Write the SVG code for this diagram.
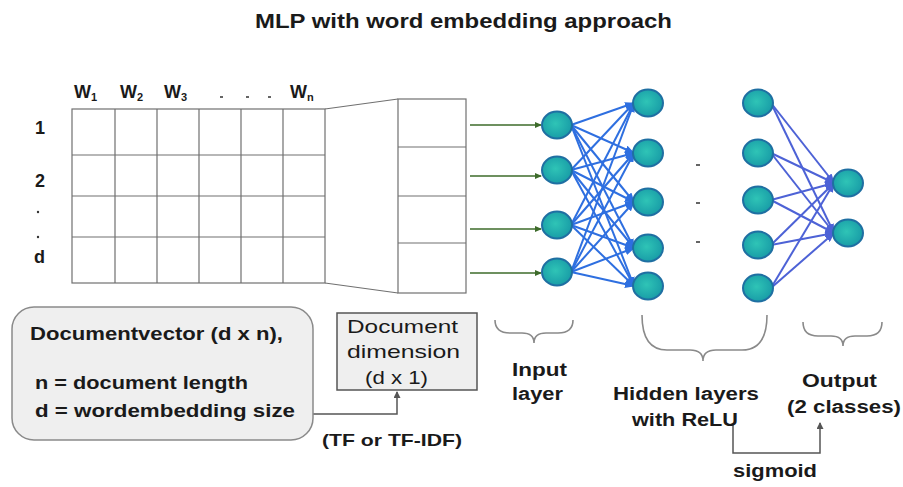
<svg xmlns="http://www.w3.org/2000/svg" width="903" height="487" viewBox="0 0 903 487">
<style>
text{font-family:"Liberation Sans",Arial,sans-serif;fill:#1a1a1a}
.b{font-weight:bold}
.grid{fill:none;stroke:#707070;stroke-width:1.2}
.node{fill:url(#ng);stroke:#1f6fa2;stroke-width:2}
.e1{stroke:#2e6fe0;stroke-width:2;marker-end:url(#ab)}
.e2{stroke:#4d62d6;stroke-width:2;marker-end:url(#ap)}
.g{stroke:#3d6b2a;stroke-width:1.6;marker-end:url(#ag)}
.br{fill:none;stroke:#8a8a8a;stroke-width:1.6}
.cn{fill:none;stroke:#555;stroke-width:1.5}
</style>
<defs>
<radialGradient id="ng" cx="0.45" cy="0.45" r="0.6">
<stop offset="0" stop-color="#2fc4b6"/>
<stop offset="1" stop-color="#179aa6"/>
</radialGradient>
<marker id="ab" markerWidth="10" markerHeight="8" refX="9" refY="4" orient="auto" markerUnits="userSpaceOnUse"><path d="M0,0 L10,4 L0,8 Z" fill="#2e6fe0"/></marker>
<marker id="ap" markerWidth="10" markerHeight="8" refX="9" refY="4" orient="auto" markerUnits="userSpaceOnUse"><path d="M0,0 L10,4 L0,8 Z" fill="#4d62d6"/></marker>
<marker id="ag" markerWidth="7" markerHeight="6" refX="6" refY="3" orient="auto" markerUnits="userSpaceOnUse"><path d="M0,0 L7,3 L0,6 Z" fill="#3d6b2a"/></marker>
<marker id="ak" markerWidth="7" markerHeight="7" refX="6" refY="3.5" orient="auto" markerUnits="userSpaceOnUse"><path d="M0,0 L7,3.5 L0,7 Z" fill="#555"/></marker>
</defs>
<rect width="903" height="487" fill="#fff"/>
<text class="b" x="255" y="28" font-size="20" textLength="417" lengthAdjust="spacingAndGlyphs">MLP with word embedding approach</text>

<g id="matrix">
<rect class="grid" x="72" y="109" width="253" height="174"/>
<path class="grid" d="M115,109V283M157,109V283M199,109V283M241,109V283M283,109V283M72,155H325M72,196H325M72,237H325"/>
<text class="b" x="74" y="98" font-size="18">W<tspan font-size="11" dy="3">1</tspan></text>
<text class="b" x="120" y="98" font-size="18">W<tspan font-size="11" dy="3">2</tspan></text>
<text class="b" x="164" y="98" font-size="18">W<tspan font-size="11" dy="3">3</tspan></text>
<text class="b" x="290" y="98" font-size="18">W<tspan font-size="11" dy="3">n</tspan></text>
<path d="M220,97h3M246,97h3M268,97h3" stroke="#333" stroke-width="1.5"/>
<text class="b" x="35" y="134" font-size="18">1</text>
<text class="b" x="35" y="187" font-size="18">2</text>
<circle cx="38" cy="212" r="1.2" fill="#333"/>
<circle cx="38" cy="237" r="1.2" fill="#333"/>
<text class="b" x="34" y="263" font-size="18">d</text>
</g>

<g id="trapezoid">
<path class="grid" d="M325,109L398,99M325,283L398,293"/>
</g>

<g id="vector">
<rect class="grid" x="398" y="99" width="68" height="194"/>
<path class="grid" d="M398,147H466M398,196H466M398,243H466"/>
</g>

<g id="connectors">
<line class="g" x1="470" y1="125" x2="541" y2="125"/>
<line class="g" x1="470" y1="176" x2="541" y2="176"/>
<line class="g" x1="470" y1="229" x2="541" y2="229"/>
<line class="g" x1="470" y1="273" x2="541" y2="273"/>

<line class="e1" x1="571" y1="125" x2="634" y2="103"/>
<line class="e1" x1="571" y1="125" x2="634" y2="153"/>
<line class="e1" x1="571" y1="125" x2="634" y2="202"/>
<line class="e1" x1="571" y1="125" x2="634" y2="248"/>
<line class="e1" x1="571" y1="125" x2="634" y2="286"/>
<line class="e1" x1="571" y1="170" x2="634" y2="103"/>
<line class="e1" x1="571" y1="170" x2="634" y2="153"/>
<line class="e1" x1="571" y1="170" x2="634" y2="202"/>
<line class="e1" x1="571" y1="170" x2="634" y2="248"/>
<line class="e1" x1="571" y1="170" x2="634" y2="286"/>
<line class="e1" x1="571" y1="225" x2="634" y2="103"/>
<line class="e1" x1="571" y1="225" x2="634" y2="153"/>
<line class="e1" x1="571" y1="225" x2="634" y2="202"/>
<line class="e1" x1="571" y1="225" x2="634" y2="248"/>
<line class="e1" x1="571" y1="225" x2="634" y2="286"/>
<line class="e1" x1="571" y1="272" x2="634" y2="103"/>
<line class="e1" x1="571" y1="272" x2="634" y2="153"/>
<line class="e1" x1="571" y1="272" x2="634" y2="202"/>
<line class="e1" x1="571" y1="272" x2="634" y2="248"/>
<line class="e1" x1="571" y1="272" x2="634" y2="286"/>

<line class="e2" x1="771" y1="103" x2="834" y2="183"/>
<line class="e2" x1="771" y1="103" x2="834" y2="233"/>
<line class="e2" x1="771" y1="153" x2="834" y2="183"/>
<line class="e2" x1="771" y1="153" x2="834" y2="233"/>
<line class="e2" x1="771" y1="200" x2="834" y2="183"/>
<line class="e2" x1="771" y1="200" x2="834" y2="233"/>
<line class="e2" x1="771" y1="245" x2="834" y2="183"/>
<line class="e2" x1="771" y1="245" x2="834" y2="233"/>
<line class="e2" x1="771" y1="288" x2="834" y2="183"/>
<line class="e2" x1="771" y1="288" x2="834" y2="233"/>

<path class="cn" d="M313,414H397V392" marker-end="url(#ak)"/>
<path class="cn" d="M733,424V453H820V423" marker-end="url(#ak)"/>
</g>

<g id="input-layer">
<ellipse class="node" cx="557" cy="125" rx="15" ry="13.5"/>
<ellipse class="node" cx="557" cy="170" rx="15" ry="13.5"/>
<ellipse class="node" cx="557" cy="225" rx="15" ry="13.5"/>
<ellipse class="node" cx="557" cy="272" rx="15" ry="13.5"/>
</g>
<g id="hidden-layer-1">
<ellipse class="node" cx="648" cy="103" rx="15" ry="13.5"/>
<ellipse class="node" cx="648" cy="153" rx="15" ry="13.5"/>
<ellipse class="node" cx="648" cy="202" rx="15" ry="13.5"/>
<ellipse class="node" cx="648" cy="248" rx="15" ry="13.5"/>
<ellipse class="node" cx="648" cy="286" rx="15" ry="13.5"/>
</g>
<g id="ellipsis">
<path d="M696,165h4M696,203h4M696,242h4" stroke="#333" stroke-width="1.5"/>
</g>
<g id="hidden-layer-2">
<ellipse class="node" cx="758" cy="103" rx="15" ry="13.5"/>
<ellipse class="node" cx="758" cy="153" rx="15" ry="13.5"/>
<ellipse class="node" cx="758" cy="200" rx="15" ry="13.5"/>
<ellipse class="node" cx="758" cy="245" rx="15" ry="13.5"/>
<ellipse class="node" cx="758" cy="288" rx="15" ry="13.5"/>
</g>
<g id="output-layer">
<ellipse class="node" cx="848" cy="183" rx="15" ry="13.5"/>
<ellipse class="node" cx="848" cy="233" rx="15" ry="13.5"/>
</g>

<g id="doc-vector-box">
<rect x="12" y="307" width="301" height="133" rx="22" fill="#efefef" stroke="#8a8a8a" stroke-width="1.5"/>
<text class="b" x="30" y="340" font-size="18" textLength="253" lengthAdjust="spacingAndGlyphs">Documentvector (d x n),</text>
<text class="b" x="35" y="389" font-size="18" textLength="213" lengthAdjust="spacingAndGlyphs">n = document length</text>
<text class="b" x="35" y="417" font-size="18" textLength="260" lengthAdjust="spacingAndGlyphs">d = wordembedding size</text>
</g>

<g id="doc-dimension-box">
<rect x="337" y="313" width="140" height="77" fill="#efefef" stroke="#555" stroke-width="1.5"/>
<text x="347" y="333" font-size="19" textLength="111" lengthAdjust="spacingAndGlyphs">Document</text>
<text x="347" y="358" font-size="19" textLength="113" lengthAdjust="spacingAndGlyphs">dimension</text>
<text x="365" y="384" font-size="19" textLength="63" lengthAdjust="spacingAndGlyphs">(d x 1)</text>
</g>
<text class="b" x="322" y="446" font-size="17" textLength="140" lengthAdjust="spacingAndGlyphs">(TF or TF-IDF)</text>

<g id="braces">
<path class="br" d="M495,320Q495,333 510,333L522,333Q534,333 534,343Q534,333 546,333L558,333Q573,333 573,320"/>
<path class="br" d="M642,315Q642,350 667,350L690,350Q703,350 703,361Q703,350 716,350L742,350Q767,350 767,315"/>
<path class="br" d="M803,322Q803,336 818,336L831,336Q843,336 843,346Q843,336 855,336L867,336Q882,336 882,322"/>
</g>

<g id="labels">
<text class="b" x="512" y="376" font-size="18" textLength="55" lengthAdjust="spacingAndGlyphs">Input</text>
<text class="b" x="512" y="400" font-size="18" textLength="51" lengthAdjust="spacingAndGlyphs">layer</text>
<text class="b" x="613" y="400" font-size="18" textLength="146" lengthAdjust="spacingAndGlyphs">Hidden layers</text>
<text class="b" x="632" y="426" font-size="18" textLength="106" lengthAdjust="spacingAndGlyphs">with ReLU</text>
<text class="b" x="802" y="387" font-size="18" textLength="75" lengthAdjust="spacingAndGlyphs">Output</text>
<text class="b" x="787" y="413" font-size="18" textLength="114" lengthAdjust="spacingAndGlyphs">(2 classes)</text>
<text class="b" x="733" y="477" font-size="18" textLength="84" lengthAdjust="spacingAndGlyphs">sigmoid</text>
</g>
</svg>
